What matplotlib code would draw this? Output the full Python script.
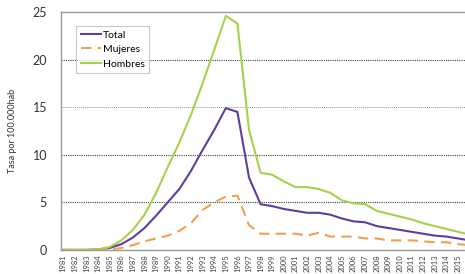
import matplotlib
matplotlib.use("Agg")
import matplotlib.pyplot as plt

plt.rcParams['font.family'] = ['Lato', 'DejaVu Sans']

# Datos (tasa por 100.000 hab)
years = list(range(1981, 2017))
total = [0.0, 0.0, 0.0, 0.05, 0.2, 0.6, 1.3, 2.3, 3.6, 5.0, 6.4, 8.3, 10.5, 12.6, 14.9, 14.5,
         7.6, 4.8, 4.6, 4.3, 4.1, 3.9, 3.9, 3.7, 3.3, 3.0, 2.9, 2.5, 2.3, 2.1, 1.9, 1.7,
         1.5, 1.4, 1.2, 1.0]
mujeres = [0.0, 0.0, 0.0, 0.0, 0.05, 0.2, 0.5, 0.9, 1.2, 1.5, 2.0, 2.8, 4.2, 5.0, 5.6, 5.7,
           2.6, 1.7, 1.7, 1.7, 1.7, 1.5, 1.8, 1.4, 1.4, 1.4, 1.2, 1.2, 1.0, 1.0, 1.0, 0.9,
           0.8, 0.8, 0.6, 0.5]
hombres = [0.0, 0.0, 0.0, 0.05, 0.3, 1.0, 2.1, 3.7, 6.0, 8.7, 11.3, 14.2, 17.5, 21.0, 24.6, 23.8,
           12.6, 8.1, 7.9, 7.2, 6.6, 6.6, 6.4, 6.0, 5.2, 4.9, 4.8, 4.1, 3.8, 3.5, 3.2, 2.8,
           2.5, 2.2, 1.9, 1.6]
yticks = [0, 5, 10, 15, 20, 25]

fig = plt.figure(figsize=(4.65, 2.74), dpi=100)
ax = fig.add_axes([0.131, 0.088, 0.869, 0.868])

for y in [5, 10, 20]:
    ax.axhline(y, color='#444444', lw=0.8, ls=(0, (1, 1)), zorder=0)
ax.axhline(15, color='#999999', lw=0.7, ls=(0, (1, 1)), zorder=0)

ax.plot(years, total, color='#5c3f9e', lw=1.5, label='Total')
ax.plot(years, mujeres, color='#f0a050', lw=1.5, ls=(0, (5, 3)), label='Mujeres')
ax.plot(years, hombres, color='#a6d24a', lw=1.5, label='Hombres')

ax.set_xlim(1980.8, 2015.6)
ax.set_ylim(0, 25)
ax.set_yticks(yticks)
ax.set_xticks(years[:-1])
ax.set_xticklabels([str(y) for y in years[:-1]], rotation=90, fontsize=5.5, color='#444444')
ax.tick_params(axis='y', labelsize=9, length=0, pad=10, colors='#333333')
ax.tick_params(axis='x', length=0, pad=3)
ax.set_ylabel('Tasa por 100.000hab', fontsize=6.5, color='#333333', labelpad=11)

for side in ['left', 'bottom', 'top']:
    ax.spines[side].set_color('#999999')
    ax.spines[side].set_linewidth(1.0)
ax.spines['right'].set_visible(False)

leg = ax.legend(loc='upper left', bbox_to_anchor=(0.025, 0.965), fontsize=7.5,
                handlelength=1.9, handletextpad=0.2, labelspacing=0.5,
                borderpad=0.45, fancybox=False, frameon=True)
leg.get_frame().set_edgecolor('#bbbbbb')
leg.get_frame().set_linewidth(0.8)

fig.savefig('out.png', dpi=100)
